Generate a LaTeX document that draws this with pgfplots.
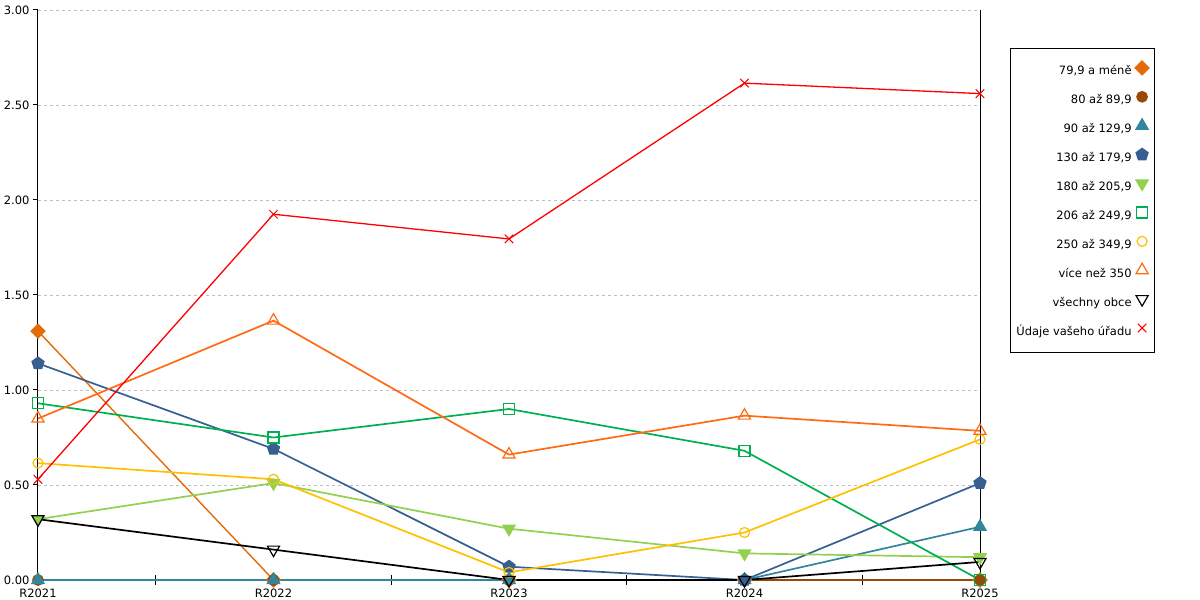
\documentclass[border=0pt]{standalone}
\usepackage{pgfplots}
\pgfplotsset{compat=1.18}
\usepackage{fontspec}
\setmainfont{DejaVu Sans}
\definecolor{c1}{HTML}{E36C09}
\definecolor{c2}{HTML}{984807}
\definecolor{c3}{HTML}{31859C}
\definecolor{c4}{HTML}{375F91}
\definecolor{c5}{HTML}{92D050}
\definecolor{c6}{HTML}{00B050}
\definecolor{c7}{HTML}{FFC000}
\definecolor{c8}{HTML}{FF6A13}
\definecolor{c10}{HTML}{FF0000}
\definecolor{gridc}{HTML}{BFBFBF}
\begin{document}
\begin{tikzpicture}
\path[use as bounding box] (-38pt,-20pt) rectangle (1162pt,580pt);
\begin{axis}[
  at={(0pt,0pt)}, anchor=south west,
  scale only axis, width=942pt, height=570pt,
  xmin=0, xmax=4, ymin=0, ymax=3,
  axis x line=bottom, axis y line=box,
  x axis line style={-, line width=1pt},
  y axis line style={-, line width=1pt},
  ytick={0,0.5,1,1.5,2,2.5,3},
  ytick pos=left,
  tick align=outside,
  major tick length=5pt,
  yticklabel style={/pgf/number format/.cd, fixed, fixed zerofill, precision=2, assume math mode=true},
  ymajorgrids,
  major grid style={gridc, line width=0.8pt, dash pattern=on 3pt off 3pt},
  xtick={0,1,2,3,4},
  xticklabels={R2021,R2022,R2023,R2024,R2025},
  xtick style={draw=none},
  extra x ticks={0.5,1.5,2.5,3.5},
  extra x tick labels={},
  extra x tick style={grid=none, tick align=center, major tick length=10pt, xtick style={draw=black, line width=1pt}},
  ytick style={line width=1pt, black},
  tick label style={font=\fontsize{11.5}{14}\selectfont},
  every axis plot/.append style={line width=1.7pt},
  mark size=5.5pt,
  legend cell align=right,
  legend plot pos=right,
  legend image code/.code={\path[draw=none,fill=none] (-6.5pt,-3pt) rectangle (6.5pt,9pt);
    \begin{pgfinterruptboundingbox}\draw[#1,only marks] plot coordinates {(0pt,4pt)};\end{pgfinterruptboundingbox}},
  legend style={at={(1.0318,0.9333)}, anchor=north west, draw=black, line width=0.8pt,
    font=\fontsize{11.5}{14}\selectfont, inner xsep=6pt, inner ysep=14.5pt,
    row sep=13.9pt, column sep=4pt,
    nodes={inner sep=0pt, text height=9pt, text depth=3pt}},
]
\addplot[c1, line width=1.4pt, mark=square*, mark options={fill=c1, rotate=45, mark size=4.8pt}] coordinates {(0,1.31) (1,0) (2,0) (3,0) (4,0)};
\addlegendentry{79,9 a méně}
\addplot[c2, mark=*, mark options={fill=c2, mark size=5pt}] coordinates {(0,0) (1,0) (2,0) (3,0) (4,0)};
\addlegendentry{80 až 89,9}
\addplot[c3, mark=triangle*, mark options={fill=c3, mark size=6.5pt}] coordinates {(0,0) (1,0) (2,0) (3,0) (4,0.28)};
\addlegendentry{90 až 129,9}
\addplot[c4, mark=pentagon*, mark options={fill=c4, mark size=6pt}] coordinates {(0,1.14) (1,0.69) (2,0.07) (3,0) (4,0.51)};
\addlegendentry{130 až 179,9}
\addplot[c5, mark=triangle*, mark options={fill=c5, rotate=180, mark size=6.5pt}] coordinates {(0,0.32) (1,0.51) (2,0.27) (3,0.14) (4,0.12)};
\addlegendentry{180 až 205,9}
\addplot[c6, mark=square, mark options={line width=1.2pt}] coordinates {(0,0.93) (1,0.75) (2,0.90) (3,0.68) (4,0)};
\addlegendentry{206 až 249,9}
\addplot[c7, mark=o, mark options={line width=1.2pt, mark size=5pt}] coordinates {(0,0.615) (1,0.53) (2,0.04) (3,0.25) (4,0.74)};
\addlegendentry{250 až 349,9}
\addplot[c8, mark=triangle, mark options={line width=1.2pt, mark size=7pt}] coordinates {(0,0.85) (1,1.365) (2,0.66) (3,0.865) (4,0.785)};
\addlegendentry{více než 350}
\addplot[black, mark=triangle, mark options={line width=1.2pt, rotate=180, mark size=7pt}] coordinates {(0,0.32) (1,0.16) (2,0) (3,0) (4,0.095)};
\addlegendentry{všechny obce}
\addplot[c10, line width=1.3pt, mark=x, mark options={line width=1pt, mark size=6pt}] coordinates {(0,0.53) (1,1.925) (2,1.795) (3,2.615) (4,2.56)};
\addlegendentry{Údaje vašeho úřadu}
\end{axis}
\end{tikzpicture}
\end{document}
